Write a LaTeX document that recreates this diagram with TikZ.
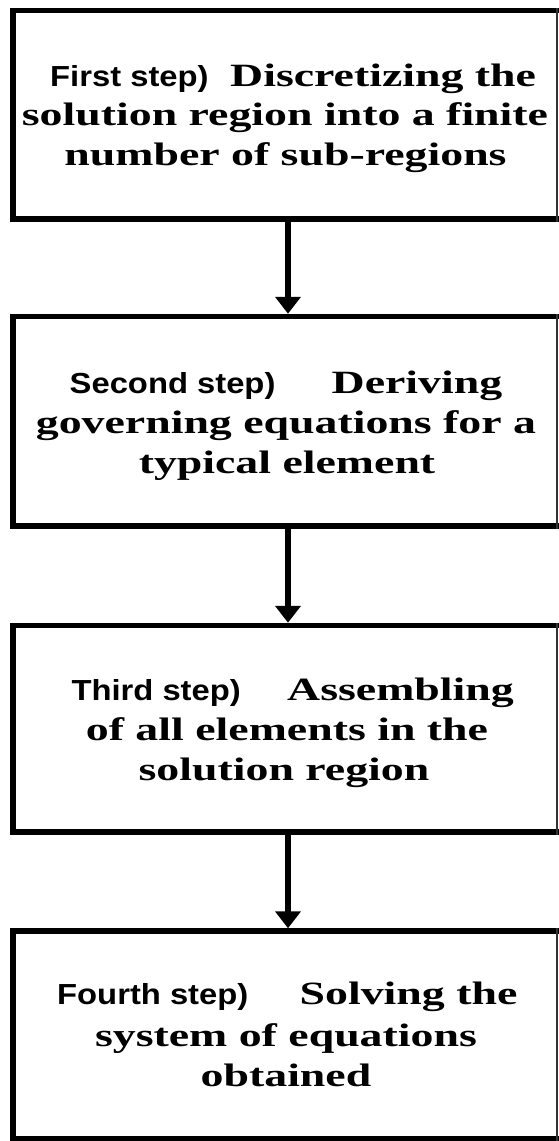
\documentclass[tikz,border=0pt]{standalone}
\usepackage{fontspec}
\setmainfont{Liberation Serif}
\newfontfamily\stepsans[FakeStretch=1.13]{Liberation Sans}
\newfontfamily\stepserif[FakeStretch=1.41]{Liberation Serif}
\usetikzlibrary{arrows.meta}

\begin{document}
\begin{tikzpicture}[x=1pt,y=-1pt,
  stepbox/.style={draw=black, line width=5.5pt, rectangle, inner sep=0pt, minimum width=567pt},
  thinedge/.style={draw=black!80, line width=1.5pt},
  lbl/.style={font=\stepsans\bfseries\fontsize{29}{29}\selectfont, inner sep=0pt, anchor=base west},
  txt/.style={font=\stepserif\bfseries\fontsize{32.5}{40}\selectfont, inner sep=0pt, anchor=base},
  txtw/.style={txt, anchor=base west},
  flow/.style={line width=6pt, -{Triangle[width=25pt,length=17pt]}},
]
\clip (0,0) rectangle (559,1141);
\fill[white] (0,0) rectangle (559,1141);

% boxes
\node[stepbox, minimum height=208.5pt] (b1) at (296.5,114.75) {};
\node[stepbox, minimum height=209.5pt] (b2) at (296.5,421.25) {};
\node[stepbox, minimum height=206.5pt] (b3) at (296.5,728.75) {};
\node[stepbox, minimum height=208pt]   (b4) at (296.5,1035) {};

% thin right edges
\coordinate (re) at (557,0);
\foreach \b in {b1,b2,b3,b4}{
  \draw[thinedge] (re |- \b.north) -- (re |- \b.south);
}

% arrows
\coordinate (ax) at (288,0);
\draw[flow] (ax |- b1.south) -- (ax |- b2.north);
\draw[flow] (ax |- b2.south) -- (ax |- b3.north);
\draw[flow] (ax |- b3.south) -- (ax |- b4.north);

% box 1
\node[lbl]  (s1)  at (50,86.7) {First step)};
\node[txtw] (d1a) at (230,86.7) {Discretizing the};
\node[txt]  (d1b) at (285,125) {solution region into a finite};
\node[txt]  (d1c) at (285.5,165) {number of sub-regions};

% box 2
\node[lbl]  (s2)  at (69.5,393.3) {Second step)};
\node[txtw] (d2a) at (331.5,393.3) {Deriving};
\node[txt]  (d2b) at (286,433) {governing equations for a};
\node[txt]  (d2c) at (287,473) {typical element};

% box 3
\node[lbl]  (s3)  at (71.3,700) {Third step)};
\node[txtw] (d3a) at (287,700) {Assembling};
\node[txt]  (d3b) at (287,740.7) {of all elements in the};
\node[txt]  (d3c) at (284,780.7) {solution region};

% box 4
\node[lbl]  (s4)  at (57,1004) {Fourth step)};
\node[txtw] (d4a) at (299.5,1004) {Solving the};
\node[txt]  (d4b) at (286,1046.7) {system of equations};
\node[txt]  (d4c) at (286,1086) {obtained};
\end{tikzpicture}
\end{document}
